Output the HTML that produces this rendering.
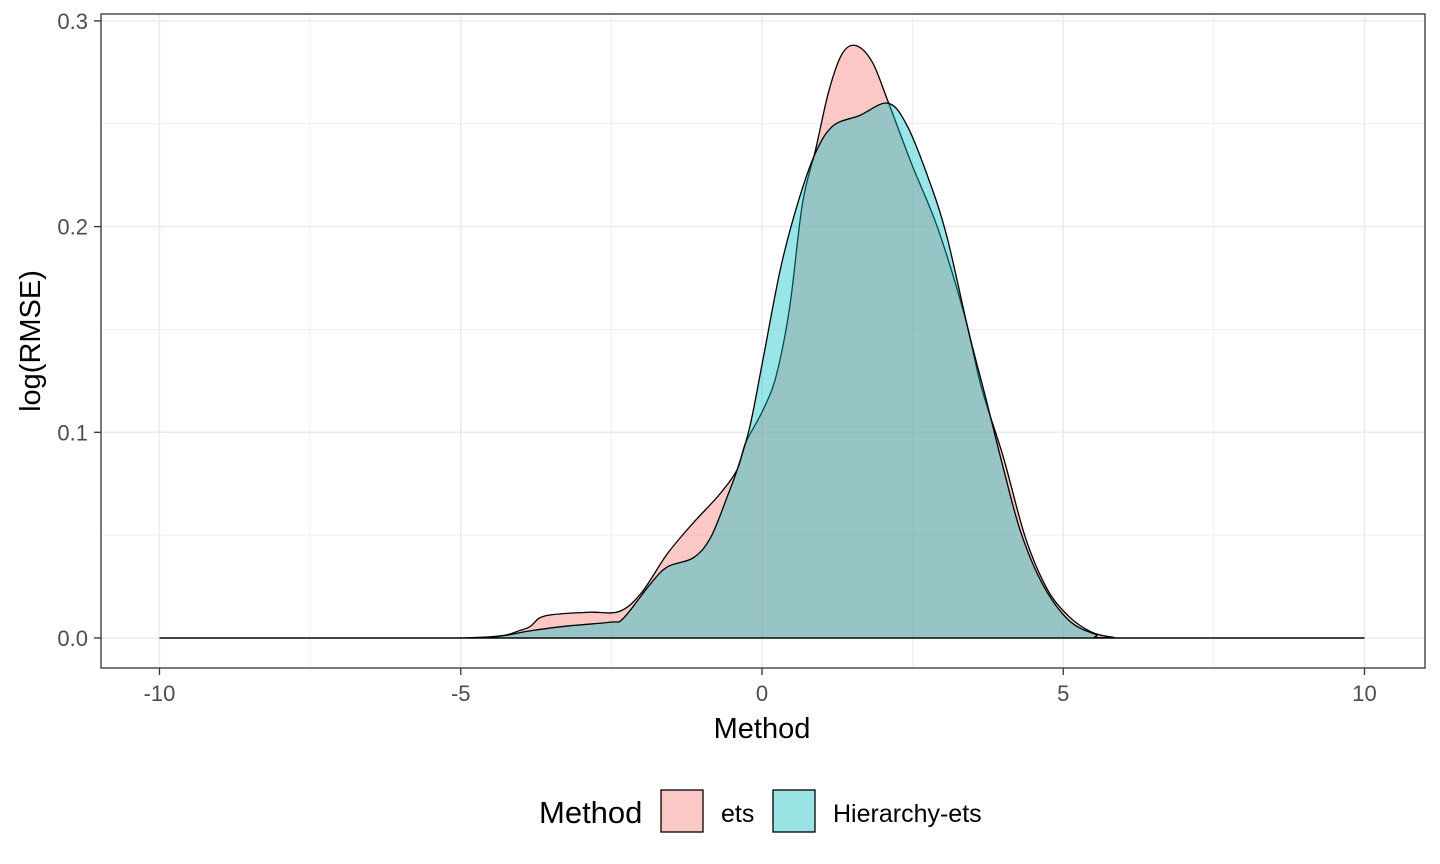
<!DOCTYPE html>
<html><head><meta charset="utf-8"><style>
body{margin:0;background:#fff;}
svg{display:block;font-family:"Liberation Sans",Arial,sans-serif;}
</style></head><body>
<svg id="chart" width="1440" height="864" viewBox="0 0 1440 864">
<rect x="0" y="0" width="1440" height="864" fill="#fff"/>
<g id="grid"></g>
<g id="series"></g>
<rect x="101" y="14" width="1324" height="654" fill="none" stroke="#333" stroke-width="1.3"/>
<g id="axes"></g>
<text x="762" y="738" text-anchor="middle" font-size="29" fill="#000">Method</text>
<text transform="translate(40,341) rotate(-90)" text-anchor="middle" font-size="29" fill="#000">log(RMSE)</text>
<g>
<text x="539" y="823" font-size="31" fill="#000">Method</text>
<rect x="661" y="790" width="42" height="42" fill="#FBC8C5" stroke="#000" stroke-width="1.3"/>
<text x="721" y="822" font-size="25" fill="#000">ets</text>
<rect x="773" y="790" width="42" height="42" fill="#9AE3E5" stroke="#000" stroke-width="1.3"/>
<text x="833" y="822" font-size="25" fill="#000">Hierarchy-ets</text>
</g>
</svg>
<script>
const etsX=[-10,-5.05,-3.98,-3.62,-2.88,-2.37,-2.0,-1.57,-1.14,-0.70,-0.41,-0.27,0.02,0.24,0.46,0.67,0.89,1.11,1.33,1.56,1.83,2.09,2.49,2.92,3.36,3.64,4.01,4.37,4.73,5.09,5.46,5.82,6.2,10];
const etsY=[0,0,0.004,0.0106,0.0125,0.0129,0.022,0.041,0.056,0.070,0.082,0.095,0.111,0.128,0.161,0.211,0.2375,0.266,0.284,0.288,0.280,0.261,0.230,0.199,0.157,0.122,0.0875,0.049,0.024,0.0106,0.003,0.0004,0,0];
const hierX=[-10,-5.05,-4.33,-3.89,-3.24,-2.51,-2.30,-1.86,-1.57,-1.14,-0.85,-0.56,-0.41,-0.20,0.02,0.31,0.60,0.89,1.18,1.62,2.09,2.41,2.78,3.07,3.43,3.72,4.01,4.30,4.66,5.09,5.53,5.96,10];
const hierY=[0,0,0.001,0.0033,0.0058,0.0077,0.0096,0.026,0.0346,0.039,0.049,0.070,0.082,0.103,0.136,0.180,0.212,0.236,0.249,0.254,0.260,0.249,0.222,0.195,0.149,0.116,0.082,0.051,0.026,0.0087,0.0019,0,0];
const xTicks=[-10,-5,0,5,10];
const xTickLabels=["-10","-5","0","5","10"];
const yTicks=[0,0.1,0.2,0.3];
const yTickLabels=["0.0","0.1","0.2","0.3"];
const xMinor=[-7.5,-2.5,2.5,7.5];
const yMinor=[0.05,0.15,0.25];

const NS="http://www.w3.org/2000/svg";
const sx=v=>762+v*60.25;
const sy=v=>638-v*2057;
function mk(tag,attrs,parent){const e=document.createElementNS(NS,tag);for(const k in attrs)e.setAttribute(k,attrs[k]);parent.appendChild(e);return e;}
const grid=document.getElementById('grid'),axes=document.getElementById('axes'),series=document.getElementById('series');
xMinor.forEach(v=>{const l=mk('line',{x1:sx(v),x2:sx(v),y1:14,y2:668,stroke:'#EBEBEB','stroke-width':0.8},grid);

});
yMinor.forEach(v=>{const l=mk('line',{x1:101,x2:1425,y1:sy(v),y2:sy(v),stroke:'#EBEBEB','stroke-width':0.8},grid);

});
xTicks.forEach((v,i)=>{const l=mk('line',{x1:sx(v),x2:sx(v),y1:14,y2:668,stroke:'#EBEBEB','stroke-width':1.5},grid);


const t=mk('line',{x1:sx(v),x2:sx(v),y1:668,y2:675,stroke:'#333','stroke-width':1.3},axes);


const tx=mk('text',{x:sx(v),y:701,'text-anchor':'middle','font-size':22,fill:'#4D4D4D'},axes);tx.textContent=xTickLabels[i];

});
yTicks.forEach((v,i)=>{const l=mk('line',{x1:101,x2:1425,y1:sy(v),y2:sy(v),stroke:'#EBEBEB','stroke-width':1.5},grid);


const t=mk('line',{x1:94,x2:101,y1:sy(v),y2:sy(v),stroke:'#333','stroke-width':1.3},axes);


const tx=mk('text',{x:88,y:sy(v)+8,'text-anchor':'end','font-size':22,fill:'#4D4D4D'},axes);tx.textContent=yTickLabels[i];

});
function pathFor(X,Y){const p=X.map((x,i)=>[sx(x),sy(Y[i])]);let d=`M${p[0][0]},${p[0][1]}`;
for(let i=0;i<p.length-1;i++){const p0=p[Math.max(0,i-1)],p1=p[i],p2=p[i+1],p3=p[Math.min(p.length-1,i+2)];
let c1y=p1[1]+(p2[1]-p0[1])/6,c2y=p2[1]-(p3[1]-p1[1])/6;c1y=Math.min(c1y,638);c2y=Math.min(c2y,638);
d+=` C${p1[0]+(p2[0]-p0[0])/6},${c1y} ${p2[0]-(p3[0]-p1[0])/6},${c2y} ${p2[0]},${p2[1]}`;}
return d;}
const a=mk('path',{d:pathFor(etsX,etsY)+'Z',fill:'#F8766D','fill-opacity':0.4,stroke:'#000','stroke-width':1.3},series);


const b=mk('path',{d:pathFor(hierX,hierY)+'Z',fill:'#00BFC4','fill-opacity':0.4,stroke:'#000','stroke-width':1.3},series);


</script>
</body></html>
